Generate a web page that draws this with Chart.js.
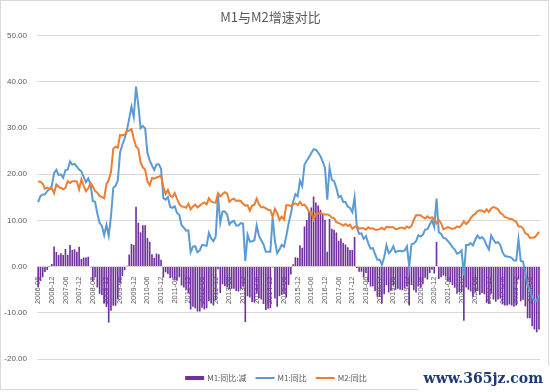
<!DOCTYPE html>
<html>
<head>
<meta charset="utf-8">
<script src="https://cdn.jsdelivr.net/npm/chart.js@4"></script>
<style>
  html, body { margin: 0; padding: 0; background: #fff; }
  #wrap { width: 550px; height: 392px; position: relative; }
</style>
</head>
<body>
<div id="wrap"><canvas id="mychart"></canvas></div>
<script>
// months 2006-06 .. 2024-10
const startYear = 2006, startMonth = 6, monthCount = 221;
const months = [];
for (let i = 0; i < monthCount; i++) {
  const m = startMonth - 1 + i;
  const y = startYear + Math.floor(m / 12);
  const mm = (m % 12) + 1;
  months.push(y + "-" + (mm < 10 ? "0" + mm : mm));
}

// M1 同比 (%)
const m1 = [
  13.95, 15.26, 15.61, 15.66, 16.34, 16.79, 17.48,
  20.23, 20.95, 19.80, 19.96, 19.24, 20.88, 20.97, 22.77, 22.07, 22.21, 21.66, 21.01,
  20.61, 19.44, 18.25, 19.07, 17.93, 14.21, 14.04, 11.48, 9.43, 8.85, 6.80, 9.06,
  6.68, 10.91, 17.04, 17.48, 18.69, 24.79, 26.37, 27.72, 29.51, 32.03, 34.63, 32.35,
  38.96, 34.99, 29.94, 30.45, 29.93, 24.64, 22.99, 21.89, 20.94, 22.10, 22.15, 21.19,
  14.82, 14.47, 15.03, 12.89, 12.70, 13.06, 11.62, 11.21, 8.94, 8.43, 7.78, 7.85,
  3.1, 4.3, 4.4, 3.1, 3.5, 4.7, 4.6, 4.5, 7.3, 6.1, 5.5, 6.5,
  15.3, 9.5, 11.9, 11.9, 11.3, 9.1, 9.7, 9.9, 8.9, 8.9, 9.4, 9.3,
  1.2, 6.9, 5.4, 5.5, 5.7, 8.9, 6.7, 5.7, 4.8, 3.2, 3.2, 3.2,
  10.6, 5.6, 2.9, 3.7, 4.7, 4.3, 6.6, 9.3, 11.4, 14.0, 15.7, 15.2,
  18.6, 17.4, 22.1, 22.9, 23.7, 24.6, 25.4, 25.3, 24.7, 23.9, 22.7, 21.4,
  14.5, 21.4, 18.8, 18.5, 17.0, 15.0, 15.3, 14.0, 14.0, 13.0, 12.7, 11.8,
  15.0, 8.5, 7.1, 7.2, 6.0, 6.6, 5.1, 3.9, 4.0, 2.7, 1.5, 1.5,
  0.4, 2.0, 4.6, 2.9, 3.4, 4.4, 3.1, 3.4, 3.4, 3.3, 3.5, 4.4,
  0.0, 4.8, 5.0, 5.5, 6.8, 6.5, 6.9, 8.0, 8.1, 9.1, 10.0, 8.6,
  14.7, 7.4, 7.1, 6.2, 6.1, 5.5, 4.9, 4.2, 3.7, 2.8, 3.0, 3.5,
  -1.9, 4.7, 4.7, 5.1, 4.6, 5.8, 6.7, 6.1, 6.4, 5.8, 4.6, 3.7,
  6.7, 5.8, 5.1, 5.3, 4.7, 3.1, 2.3, 2.2, 2.1, 1.9, 1.3, 1.3,
  5.9, 1.2, 1.1, -1.4, -4.2, -5.0, -6.6, -7.3, -7.4, -6.1
];

// M2 同比 (%)
const m2 = [
  18.43, 18.36, 17.93, 16.83, 17.09, 16.75, 16.94,
  15.88, 17.78, 17.27, 17.07, 16.74, 17.06, 18.48, 18.09, 18.45, 18.47, 18.45, 16.72,
  18.94, 17.48, 16.29, 16.94, 18.07, 17.37, 16.35, 16.00, 15.29, 15.02, 14.80, 17.82,
  18.79, 20.48, 25.51, 25.95, 25.74, 28.46, 28.42, 28.53, 29.31, 29.42, 29.74, 27.68,
  25.98, 25.52, 22.50, 21.48, 21.00, 18.46, 17.62, 19.19, 19.03, 19.29, 19.48, 19.72,
  17.20, 15.71, 16.62, 15.34, 15.06, 15.92, 14.68, 13.52, 13.04, 12.93, 12.73, 13.61,
  12.4, 13.0, 13.4, 12.8, 13.2, 13.6, 13.9, 13.5, 14.8, 14.1, 13.9, 13.8,
  15.9, 15.2, 15.7, 16.1, 15.8, 14.0, 14.5, 14.7, 14.2, 14.3, 14.2, 13.6,
  13.2, 13.3, 12.1, 13.2, 13.4, 14.7, 13.5, 12.8, 12.9, 12.6, 12.3, 12.2,
  10.8, 12.5, 11.6, 10.1, 10.8, 10.2, 13.3, 13.3, 13.1, 13.5, 13.7, 13.3,
  14.0, 13.3, 13.4, 12.8, 11.8, 11.8, 10.2, 11.4, 11.5, 11.6, 11.4, 11.3,
  11.3, 11.1, 10.6, 10.5, 9.6, 9.4, 9.2, 8.9, 9.2, 8.8, 9.1, 8.2,
  8.6, 8.8, 8.2, 8.3, 8.3, 8.0, 8.5, 8.2, 8.3, 8.0, 8.0, 8.1,
  8.4, 8.0, 8.6, 8.5, 8.5, 8.5, 8.1, 8.2, 8.4, 8.4, 8.2, 8.7,
  8.4, 8.8, 10.1, 11.1, 11.1, 11.1, 10.7, 10.4, 10.9, 10.5, 10.7, 10.1,
  9.4, 10.1, 9.4, 8.1, 8.3, 8.6, 8.3, 8.2, 8.3, 8.7, 8.5, 9.0,
  9.8, 9.2, 9.7, 10.5, 11.1, 11.4, 12.0, 12.2, 12.1, 11.8, 12.4, 11.8,
  12.6, 12.9, 12.7, 12.4, 11.6, 11.3, 10.7, 10.6, 10.3, 10.3, 10.0, 9.7,
  8.7, 8.7, 8.3, 7.2, 7.0, 6.2, 6.3, 6.3, 6.8, 7.5
];

// M1:同比 - M2:同比
const diff = [
  -4.48, -3.10, -2.32, -1.17, -0.75, 0.04, 0.54,
  4.35, 3.17, 2.53, 2.89, 2.50, 3.82, 2.49, 4.68, 3.62, 3.74, 3.21, 4.29,
  1.67, 1.96, 1.96, 2.13, -0.14, -3.16, -2.31, -4.52, -5.86, -6.17, -8.00, -8.76,
  -12.11, -9.57, -8.47, -8.47, -7.05, -3.67, -2.05, -0.81, 0.20, 2.61, 4.89, 4.67,
  12.98, 9.47, 7.44, 8.97, 8.93, 6.18, 5.37, 2.70, 1.91, 2.81, 2.67, 1.47,
  -2.38, -1.24, -1.59, -2.45, -2.36, -2.86, -3.06, -2.31, -4.10, -4.50, -4.95, -5.76,
  -9.3, -8.7, -9.0, -9.7, -9.7, -8.9, -9.3, -9.0, -7.5, -8.0, -8.4, -7.3,
  -0.6, -5.7, -3.8, -4.2, -4.5, -4.9, -4.8, -4.8, -5.3, -5.4, -4.8, -4.3,
  -12.0, -6.4, -6.7, -7.7, -7.7, -5.8, -6.8, -7.1, -8.1, -9.4, -9.1, -9.0,
  -0.2, -6.9, -8.7, -6.4, -6.1, -5.9, -6.7, -4.0, -1.7, 0.5, 2.0, 1.9,
  4.6, 4.1, 8.7, 10.1, 11.9, 12.8, 15.2, 13.9, 13.2, 12.3, 11.3, 10.1,
  3.2, 10.3, 8.2, 8.0, 7.4, 5.6, 6.1, 5.1, 4.8, 4.2, 3.6, 3.6,
  6.4, -0.3, -1.1, -1.1, -2.3, -1.4, -3.4, -4.3, -4.3, -5.3, -6.5, -6.6,
  -8.0, -6.0, -4.0, -5.6, -5.1, -4.1, -5.0, -4.8, -5.0, -5.1, -4.7, -4.3,
  -8.4, -4.0, -5.1, -5.6, -4.3, -4.6, -3.8, -2.4, -2.8, -1.4, -0.7, -1.5,
  5.3, -2.7, -2.3, -1.9, -2.2, -3.1, -3.4, -4.0, -4.6, -5.9, -5.5, -5.5,
  -11.7, -4.5, -5.0, -5.4, -6.5, -5.6, -5.3, -6.1, -5.7, -6.0, -7.8, -8.1,
  -5.9, -7.1, -7.6, -7.1, -6.9, -8.2, -8.4, -8.4, -8.2, -8.4, -8.7, -8.4,
  -2.8, -7.5, -7.2, -8.6, -11.2, -11.2, -12.9, -13.6, -14.2, -13.6
];

const yTicks = [-20, -10, 0, 10, 20, 30, 40, 50];
const labelEvery = 6;

const textGray = "#595959";
const gridGray = "#d9d9d9";

// white background, frame, legend at the bottom, watermark
const frame = {
  id: "frame",
  beforeDraw(chart) {
    const c = chart.ctx;
    c.save();
    c.fillStyle = "#fff";
    c.fillRect(0, 0, chart.width, chart.height);
    c.strokeStyle = gridGray;
    c.lineWidth = 1;
    c.strokeRect(0.5, 0.5, chart.width - 2, chart.height - 3);
    c.restore();
  },
  afterDraw(chart) {
    const c = chart.ctx;
    c.save();
    // legend
    c.font = "8px 'Noto Sans CJK SC'";
    c.textBaseline = "middle";
    c.textAlign = "left";
    const items = chart.data.datasets.map((ds) => ({
      text: ds.label,
      color: ds.type === "bar" ? ds.backgroundColor : ds.borderColor,
      h: ds.type === "bar" ? 4 : 2,
    }));
    const boxW = 19, gap = 3, spacing = 9;
    let total = 0;
    items.forEach((it, i) => {
      it.w = c.measureText(it.text).width;
      total += boxW + gap + it.w + (i < items.length - 1 ? spacing : 0);
    });
    let x = 276 - total / 2;
    const ly = 378;
    items.forEach((it) => {
      c.fillStyle = it.color;
      c.fillRect(x, ly - it.h / 2, boxW, it.h);
      x += boxW + gap;
      c.fillStyle = textGray;
      c.fillText(it.text, x, ly);
      x += it.w + spacing;
    });
    // watermark
    c.fillStyle = "#fff";
    c.fillRect(418, 366, 132, 26);
    c.fillStyle = "#1d3a73";
    c.font = "bold 14px 'DejaVu Serif'";
    c.textAlign = "right";
    c.fillText("www.365jz.com", 543, 379);
    c.restore();
  }
};

var ctx = document.getElementById("mychart").getContext("2d");

var myChart = new Chart(ctx, {
  type: "bar",
  data: {
    labels: months,
    datasets: [
      {
        type: "bar",
        label: "M1:同比:减",
        data: diff,
        backgroundColor: "#7030a0",
        borderWidth: 0,
        categoryPercentage: 1,
        barPercentage: 0.72,
        order: 3,
      },
      {
        type: "line",
        label: "M1:同比",
        data: m1,
        borderColor: "#5b9bd5",
        backgroundColor: "#5b9bd5",
        borderWidth: 2,
        pointRadius: 0,
        tension: 0,
        order: 2,
      },
      {
        type: "line",
        label: "M2:同比",
        data: m2,
        borderColor: "#ed7d31",
        backgroundColor: "#ed7d31",
        borderWidth: 2,
        pointRadius: 0,
        tension: 0,
        order: 1,
      },
    ],
  },
  options: {
    responsive: true,
    maintainAspectRatio: false,
    animation: false,
    layout: { padding: { left: 0, right: 9, top: 0, bottom: 33 } },
    scales: {
      x: {
        position: { y: 0 },
        grid: { display: false },
        border: { display: true, color: gridGray },
        ticks: {
          autoSkip: false,
          minRotation: 90,
          maxRotation: 90,
          padding: 2,
          color: textGray,
          font: { family: "'Liberation Sans'", size: 7.5 },
          callback: function (value, index) {
            return index % labelEvery === 0 ? months[index] : "";
          },
        },
      },
      y: {
        min: -20,
        max: 50,
        afterBuildTicks: function (scale) {
          scale.ticks = yTicks.map((v) => ({ value: v }));
        },
        afterFit: function (scale) {
          scale.width = 37;
        },
        grid: { color: gridGray, drawTicks: false },
        border: { display: false },
        ticks: {
          padding: 10,
          color: textGray,
          font: { family: "'Liberation Sans'", size: 8 },
          callback: function (v) {
            return Number(v).toFixed(2);
          },
        },
      },
    },
    plugins: {
      title: {
        display: true,
        text: "M1与M2增速对比",
        color: textGray,
        font: { family: "'Noto Sans CJK SC'", size: 13, weight: "normal" },
        padding: { top: 9, bottom: 11 },
      },
      legend: { display: false },
      tooltip: { enabled: false },
    },
  },
  plugins: [frame],
});
</script>
</body>
</html>
